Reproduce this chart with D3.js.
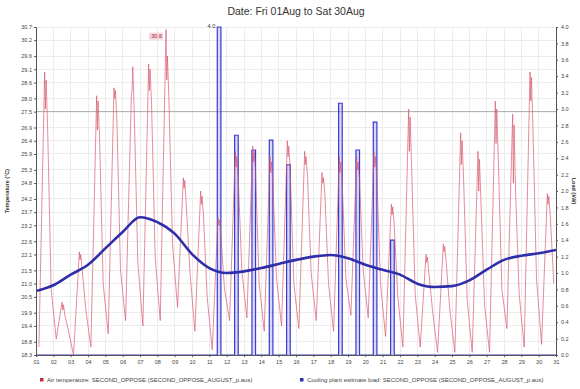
<!DOCTYPE html>
<html>
<head>
<meta charset="utf-8">
<title>Air temperature and load - August</title>
<script src="https://d3js.org/d3.v7.min.js"></script>
<style>
  body { margin: 0; background: #fff; }
  svg { font-family: "Liberation Sans", Arial, sans-serif; }
  .grid line { stroke: #ececec; shape-rendering: crispEdges; }
  .axis text { font-size: 5.5px; fill: #444; }
  .axis path, .axis line { stroke: #555; }
</style>
</head>
<body>
<svg id="chart" width="580" height="389"></svg>
<script>
// ---- data ----
var chartTitle = "Date: Fri 01Aug to Sat 30Aug";
var dayLabels = ["01","02","03","04","05","06","07","08","09","10","11","12","13","14","15","16",
                 "17","18","19","20","21","22","23","24","25","26","27","28","29","30","31"];
var tempTickLabels = ["18.3","18.8","19.4","19.9","20.5","21.0","21.5","22.1","22.6","23.2","23.7","24.2",
                      "24.8","25.3","25.9","26.4","26.9","27.5","28.0","28.6","29.1","29.6","30.2","30.7"];
var loadTickLabels = ["0.0","0.2","0.4","0.6","0.8","1.0","1.2","1.4","1.6","1.8","2.0",
                      "2.2","2.4","2.6","2.8","3.0","3.2","3.4","3.6","3.8","4.0"];
var refTemp = 27.5;

// air temperature (°C), one row per day, readings at these hours
var readingHours = [4, 12, 13, 14, 16, 21];
var airTemp = [
  [18.6, 29.0, 27.6, 28.7, 27.0, 20.8], // 01
  [18.9, 20.3, 20.0, 20.2, 19.8, 19.2], // 02
  [18.3, 22.2, 21.9, 22.1, 21.5, 20.0], // 03
  [18.6, 28.1, 26.8, 27.9, 26.5, 21.0], // 04
  [19.1, 28.4, 28.0, 28.3, 27.2, 21.5], // 05
  [19.6, 28.1, 28.3, 29.2, 27.5, 21.8], // 06
  [19.4, 29.3, 28.3, 29.1, 27.8, 22.0], // 07
  [19.6, 30.6, 28.7, 29.6, 28.0, 22.5], // 08
  [20.1, 25.0, 24.6, 24.9, 24.0, 21.5], // 09
  [19.2, 24.5, 24.0, 24.3, 23.5, 20.5], // 10
  [18.5, 23.5, 23.2, 23.4, 22.8, 20.8], // 11
  [19.6, 26.0, 25.4, 25.8, 25.0, 21.5], // 12
  [19.7, 26.2, 25.6, 26.0, 25.2, 21.0], // 13
  [19.2, 25.8, 25.2, 25.6, 24.8, 21.2], // 14
  [19.4, 26.4, 25.8, 26.2, 25.3, 21.0], // 15
  [19.3, 26.0, 25.5, 25.8, 25.0, 21.4], // 16
  [19.6, 25.2, 24.8, 25.0, 24.4, 21.0], // 17
  [19.2, 25.8, 25.2, 25.6, 24.8, 21.2], // 18
  [19.8, 25.8, 25.3, 25.6, 24.9, 21.5], // 19
  [19.7, 26.0, 25.4, 25.8, 25.0, 21.0], // 20
  [19.0, 24.0, 23.6, 23.9, 23.2, 20.5], // 21
  [18.6, 27.6, 26.0, 27.3, 25.5, 20.6], // 22
  [18.6, 22.1, 21.8, 22.0, 21.4, 20.0], // 23
  [18.4, 22.5, 22.2, 22.4, 21.8, 20.0], // 24
  [18.4, 26.7, 25.5, 26.4, 25.0, 20.4], // 25
  [18.4, 26.0, 24.5, 25.7, 24.2, 20.2], // 26
  [18.4, 27.9, 26.3, 27.6, 25.8, 20.8], // 27
  [19.3, 27.4, 24.8, 27.0, 24.5, 20.6], // 28
  [18.6, 29.0, 27.9, 28.8, 27.0, 21.2], // 29
  [18.7, 24.4, 24.0, 24.3, 23.6, 21.0]  // 30
];

// cooling plant load (kW) runs: [day, on hour, off hour, kW]
var loadRuns = [
  [11, 11, 16, 4.0],
  [12, 11, 16, 2.68],
  [13, 11, 16, 2.5],
  [14, 11, 16, 2.62],
  [15, 11, 16, 2.32],
  [18, 11, 16, 3.07],
  [19, 11, 16, 2.5],
  [20, 11, 16, 2.84],
  [21, 11, 16, 1.4]
];

// smoothed load trend (kW) at 00:00 of each day 01..31
var loadTrend = [0.78, 0.85, 0.98, 1.10, 1.30, 1.50, 1.68, 1.62, 1.48, 1.23, 1.06, 1.00, 1.02, 1.06, 1.11, 1.16,
                 1.20, 1.22, 1.18, 1.10, 1.04, 0.98, 0.87, 0.83, 0.84, 0.91, 1.04, 1.16, 1.21, 1.24, 1.28];

var legendTemp = "Air temperature: SECOND_OPPOSE (SECOND_OPPOSE_AUGUST_p.aus)";
var legendLoad = "Cooling plant estimate load: SECOND_OPPOSE (SECOND_OPPOSE_AUGUST_p.aus)";

// ---- layout ----
var margin = {left: 36, right: 24, top: 27, bottom: 34};
var W = 580, H = 389;
var svg = d3.select("#chart");

function day(d, h) { return new Date(2014, 7, d, h || 0); }

var x = d3.scaleTime().domain([day(1), day(31)]).range([margin.left, W - margin.right]);
var yT = d3.scaleLinear().domain([+tempTickLabels[0], +tempTickLabels[tempTickLabels.length - 1]])
  .range([H - margin.bottom, margin.top]);
var yL = d3.scaleLinear().domain([0, +loadTickLabels[loadTickLabels.length - 1]])
  .range([H - margin.bottom, margin.top]);

var dayTicks = dayLabels.map(function(d) { return day(+d); });

// grid
svg.append("g").attr("class", "grid")
  .selectAll("line.v").data(dayTicks).enter().append("line")
  .attr("x1", function(d) { return x(d); }).attr("x2", function(d) { return x(d); })
  .attr("y1", margin.top).attr("y2", H - margin.bottom);
svg.append("g").attr("class", "grid")
  .selectAll("line.h").data(tempTickLabels).enter().append("line")
  .attr("x1", margin.left).attr("x2", W - margin.right)
  .attr("y1", function(d) { return yT(+d); }).attr("y2", function(d) { return yT(+d); });

svg.append("line")
  .attr("x1", margin.left).attr("x2", W - margin.right)
  .attr("y1", yT(refTemp)).attr("y2", yT(refTemp))
  .attr("stroke", "#9a9a9a").attr("stroke-width", 0.8);

svg.append("clipPath").attr("id", "plot")
  .append("rect").attr("x", margin.left).attr("y", margin.top - 2)
  .attr("width", W - margin.left - margin.right).attr("height", H - margin.top - margin.bottom + 2);

var plot = svg.append("g").attr("clip-path", "url(#plot)");

// load pulses
var loadPts = [[day(1), 0]];
loadRuns.forEach(function(r) {
  loadPts.push([day(r[0], r[1]), 0], [day(r[0], r[1]), r[3]], [day(r[0], r[2]), r[3]], [day(r[0], r[2]), 0]);
});
loadPts.push([day(31), 0]);

plot.append("path").datum(loadPts)
  .attr("fill", "rgba(150,150,235,0.35)")
  .attr("d", d3.area().x(function(d) { return x(d[0]); }).y0(yL(0)).y1(function(d) { return yL(d[1]); }));
plot.append("path").datum(loadPts)
  .attr("fill", "none").attr("stroke", "#3a3ad0").attr("stroke-width", 1.2)
  .attr("d", d3.line().x(function(d) { return x(d[0]); }).y(function(d) { return yL(d[1]); }));

// temperature
var tempPts = [];
airTemp.forEach(function(row, i) {
  row.forEach(function(v, j) { tempPts.push([day(i + 1, readingHours[j]), v]); });
});
plot.append("path").datum(tempPts)
  .attr("fill", "none").attr("stroke", "#d8566c").attr("stroke-width", 0.8).attr("stroke-opacity", 0.85)
  .attr("d", d3.line().x(function(d) { return x(d[0]); }).y(function(d) { return yT(d[1]); }));

// load trend
plot.append("path").datum(loadTrend)
  .attr("fill", "none").attr("stroke", "#2e2eaa").attr("stroke-width", 2.6)
  .attr("d", d3.line().curve(d3.curveMonotoneX)
    .x(function(d, i) { return x(day(i + 1)); }).y(function(d) { return yL(d); }));

// max labels
var tMax = d3.greatest(tempPts, function(d) { return d[1]; });
var tl = svg.append("g").attr("transform", "translate(" + (x(tMax[0]) - 3) + "," + (yT(tMax[1]) + 8) + ")");
tl.append("rect").attr("x", -14).attr("y", -5).attr("width", 14).attr("height", 7).attr("fill", "#f6d6dc");
tl.append("text").attr("x", -1).attr("text-anchor", "end").attr("font-size", 5.5).attr("fill", "#a03040")
  .text(d3.format(".1f")(tMax[1]));
var lMax = d3.greatest(loadRuns, function(d) { return d[3]; });
svg.append("text").attr("x", x(day(lMax[0], lMax[1])) - 2).attr("y", yL(lMax[3]) + 1)
  .attr("text-anchor", "end").attr("font-size", 5.5).attr("fill", "#333")
  .text(d3.format(".1f")(lMax[3]));

// axes
svg.append("g").attr("class", "axis").attr("transform", "translate(" + margin.left + ",0)")
  .call(d3.axisLeft(yT).tickValues(tempTickLabels.map(Number)).tickFormat(d3.format(".1f")).tickSize(2).tickPadding(2));
svg.append("g").attr("class", "axis").attr("transform", "translate(" + (W - margin.right) + ",0)")
  .call(d3.axisRight(yL).tickValues(loadTickLabels.map(Number)).tickFormat(d3.format(".1f")).tickSize(2).tickPadding(3));
svg.append("g").attr("class", "axis").attr("transform", "translate(0," + (H - margin.bottom) + ")")
  .call(d3.axisBottom(x).tickValues(dayTicks).tickFormat(d3.timeFormat("%d")).tickSize(2).tickPadding(3));

// titles
svg.append("text").attr("x", 296).attr("y", 15).attr("text-anchor", "middle")
  .attr("font-size", 10.5).attr("fill", "#333").text(chartTitle);
svg.append("text").attr("transform", "translate(9," + ((margin.top + H - margin.bottom) / 2) + ") rotate(-90)")
  .attr("text-anchor", "middle").attr("font-size", 5.5).attr("font-weight", "bold").attr("fill", "#333")
  .text("Temperature (°C)");
svg.append("text").attr("transform", "translate(572," + ((margin.top + H - margin.bottom) / 2) + ") rotate(90)")
  .attr("text-anchor", "middle").attr("font-size", 5.5).attr("font-weight", "bold").attr("fill", "#333")
  .text("Load (kW)");

// legend
var legend = [[legendTemp, "#c0304a", 40], [legendLoad, "#2e2eaa", 300]];
legend.forEach(function(l) {
  svg.append("rect").attr("x", l[2]).attr("y", 378).attr("width", 3.5).attr("height", 3.5).attr("fill", l[1]);
  svg.append("text").attr("x", l[2] + 7).attr("y", 381.8).attr("font-size", 6).attr("fill", "#444").text(l[0]);
});
</script>
</body>
</html>
